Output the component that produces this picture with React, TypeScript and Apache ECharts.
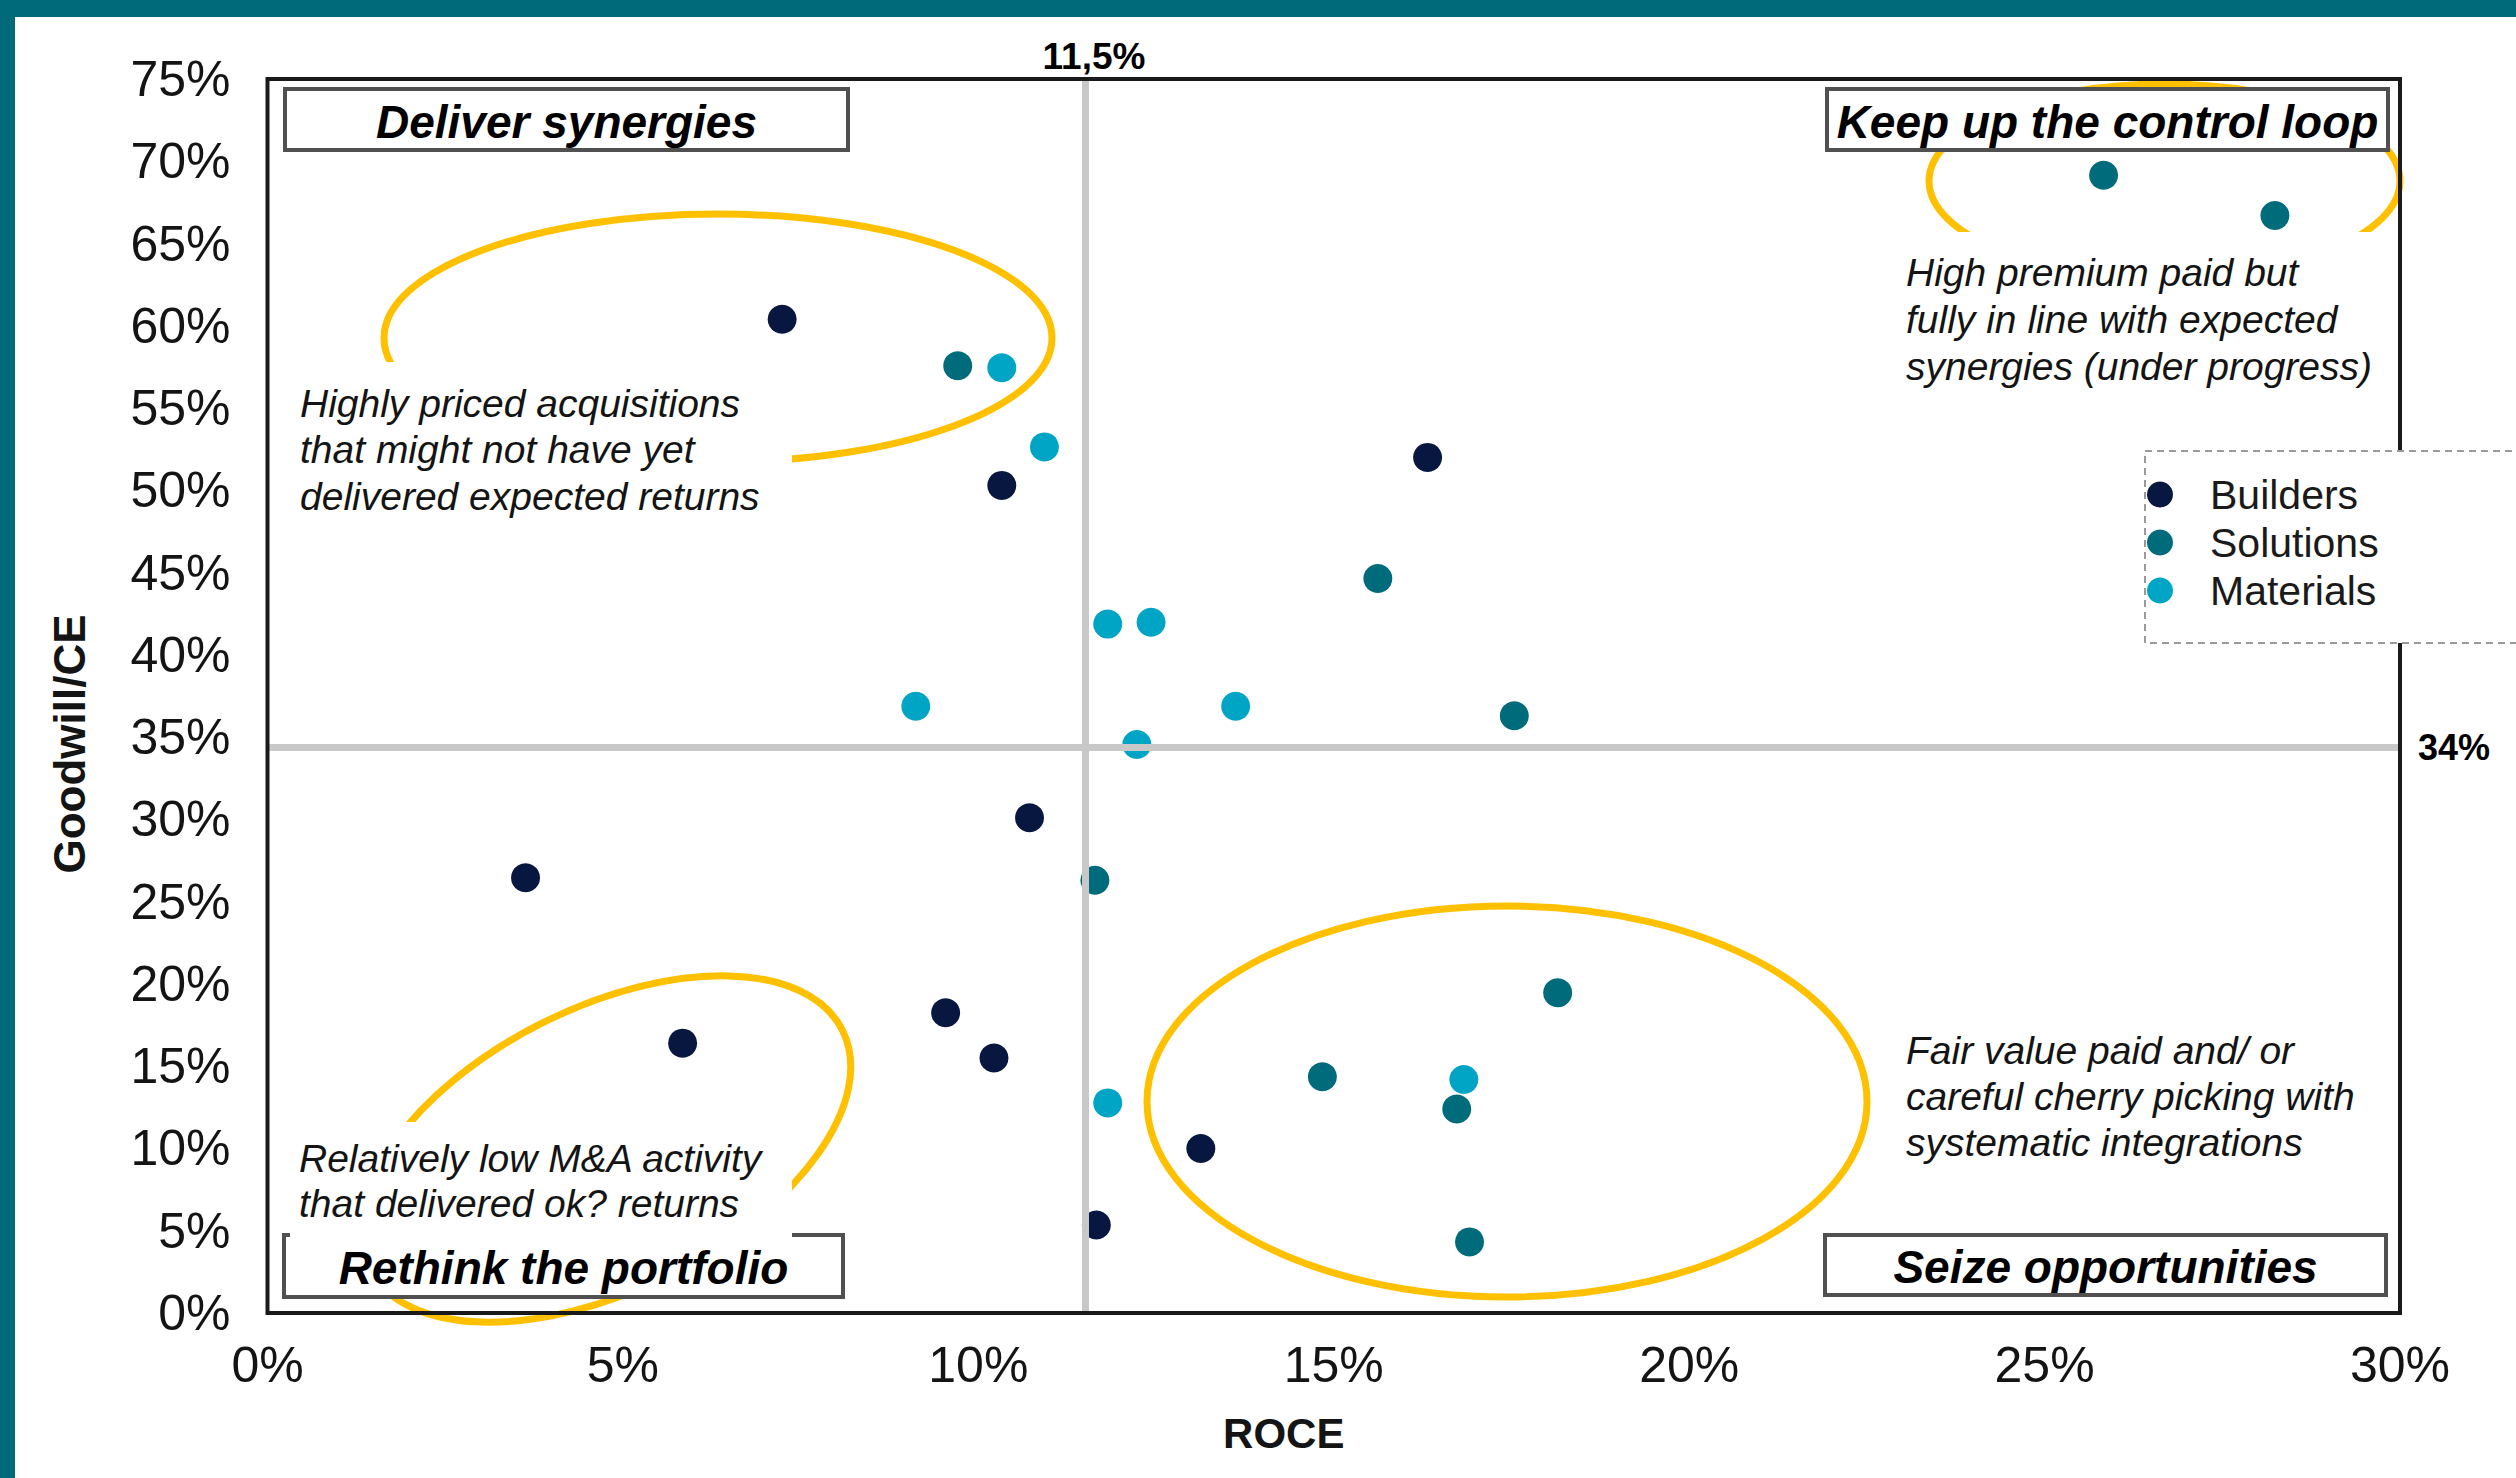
import React, { useEffect, useRef } from "react";
import * as echarts from "echarts";

const W = 2516;
const H = 1478;
const FONT = "'Liberation Sans', Arial, Helvetica, sans-serif";
const TEXT = "#141414";
const TEAL_FRAME = "#006A7A";
const YELLOW = "#FFC000";

// ---- data ----
const seriesNames = ["Builders", "Solutions", "Materials"];
const seriesColors = ["#07173F", "#006B7A", "#00A4C4"];

const buildersX = [7.24, 10.33, 16.32, 10.72, 3.63, 9.54, 5.84, 10.22, 13.13, 11.66];
const buildersY = [60.4, 50.3, 52.0, 30.1, 26.45, 18.25, 16.4, 15.5, 10.0, 5.35];

const solutionsX = [25.83, 28.24, 9.71, 15.62, 17.54, 11.64, 18.15, 14.84, 16.73, 16.91];
const solutionsY = [69.15, 66.7, 57.57, 44.64, 36.3, 26.3, 19.46, 14.36, 12.4, 4.32];

const materialsX = [10.33, 10.93, 11.82, 12.43, 9.12, 13.62, 12.23, 16.83, 11.82];
const materialsY = [57.45, 52.64, 41.87, 41.98, 36.88, 36.88, 34.55, 14.19, 12.77];

const xMin = 0, xMax = 30, xStep = 5;
const yMin = 0, yMax = 75, yStep = 5;
const xAxisName = "ROCE";
const yAxisName = "Goodwill/CE";

const roceThreshold = 11.5;
const roceThresholdLabel = "11,5%";
const goodwillThreshold = 34.4;
const goodwillThresholdLabel = "34%";

const quadrantLabels = [
  "Deliver synergies",
  "Keep up the control loop",
  "Rethink the portfolio",
  "Seize opportunities",
];
const noteTopLeft = ["Highly priced acquisitions", "that might not have yet", "delivered expected returns"];
const noteTopRight = ["High premium paid but", "fully in line with expected", "synergies (under progress)"];
const noteBottomRight = ["Fair value paid and/ or", "careful cherry picking with", "systematic integrations"];
const noteBottomLeft = ["Relatively low M&A activity", "that delivered ok? returns"];

// ---- layout ----
const G = { left: 267.5, top: 79, right: 2400, bottom: 1313 };

function zip(xs: number[], ys: number[]) {
  return xs.map((x, i) => [x, ys[i]]);
}

function quadBox(label: string, x: number, y: number, w: number, h: number) {
  return [
    {
      type: "rect",
      z: 7,
      shape: { x, y, width: w, height: h },
      style: { fill: "#ffffff", stroke: "#505050", lineWidth: 4 },
    },
    {
      type: "text",
      z: 9,
      x: x + w / 2,
      y: y + h / 2 + 2,
      style: {
        text: label,
        fill: "#000000",
        fontSize: 46,
        fontFamily: FONT,
        fontWeight: "bold",
        fontStyle: "italic",
        align: "center",
        verticalAlign: "middle",
      },
    },
  ];
}

function note(lines: string[], x: number, y: number, lh: number) {
  return {
    type: "text",
    z: 9,
    x,
    y,
    style: {
      text: lines.join("\n"),
      fill: TEXT,
      fontSize: 39,
      fontFamily: FONT,
      fontStyle: "italic",
      lineHeight: lh,
      align: "left",
      verticalAlign: "top",
    },
  };
}

function whiteRect(x: number, y: number, w: number, h: number) {
  return { type: "rect", z: 8, shape: { x, y, width: w, height: h }, style: { fill: "#ffffff" } };
}

function ring(cx: number, cy: number, rx: number, ry: number, rotation = 0) {
  return {
    type: "ellipse",
    z: 6,
    x: cx,
    y: cy,
    rotation,
    shape: { cx: 0, cy: 0, rx, ry },
    style: { fill: "none", stroke: YELLOW, lineWidth: 7 },
  };
}

export default function App() {
  const ref = useRef<HTMLDivElement>(null);

  useEffect(() => {
    const chart = echarts.init(ref.current!, null, { renderer: "svg" });

    const dataSets = [zip(buildersX, buildersY), zip(solutionsX, solutionsY), zip(materialsX, materialsY)];

    const series: any[] = seriesNames.map((name, i) => ({
      name,
      type: "scatter",
      symbol: "circle",
      symbolSize: 29,
      z: 2,
      itemStyle: { color: seriesColors[i], opacity: 1 },
      emphasis: { disabled: true },
      data: dataSets[i],
    }));

    series[0].markLine = {
      silent: true,
      symbol: ["none", "none"],
      z: 5,
      lineStyle: { color: "#C8C8C8", width: 7, type: "solid" },
      emphasis: { disabled: true },
      data: [
        {
          xAxis: roceThreshold,
          label: {
            show: true,
            position: "end",
            distance: 4,
            formatter: roceThresholdLabel,
            color: "#000",
            fontSize: 37,
            fontWeight: "bold",
            fontFamily: FONT,
            padding: [0, 0, 0, 18],
          },
        },
        {
          yAxis: goodwillThreshold,
          label: {
            show: true,
            position: "end",
            distance: 18,
            formatter: goodwillThresholdLabel,
            color: "#000",
            fontSize: 36,
            fontWeight: "bold",
            fontFamily: FONT,
            padding: [8, 0, 0, 0],
          },
        },
      ],
    };

    const graphic: any[] = [
      // frame
      { type: "rect", z: 20, shape: { x: 0, y: 0, width: W, height: 17 }, style: { fill: TEAL_FRAME } },
      { type: "rect", z: 20, shape: { x: 0, y: 0, width: 15, height: H }, style: { fill: TEAL_FRAME } },
      // highlight ellipses
      ring(718, 338, 334, 124),
      ring(2164.5, 181, 235.5, 97),
      ring(1507, 1101.5, 360, 195.5),
      ring(605.5, 1149, 265, 141, 0.464),
      // quadrant boxes
      ...quadBox(quadrantLabels[0], 285, 89, 563, 61),
      ...quadBox(quadrantLabels[1], 1827, 89, 561, 61),
      ...quadBox(quadrantLabels[2], 284, 1235, 559, 62),
      ...quadBox(quadrantLabels[3], 1825, 1235, 561, 60),
      // white backgrounds behind notes
      whiteRect(292, 362, 500, 160),
      whiteRect(1895, 232, 490, 160),
      whiteRect(290, 1122, 502, 116),
      // notes
      note(noteTopLeft, 300, 380, 46.4),
      note(noteTopRight, 1906, 248.5, 47),
      note(noteBottomRight, 1906, 1027, 46),
      note(noteBottomLeft, 299, 1135.5, 45),
      // plot border
      {
        type: "rect",
        z: 10,
        shape: { x: G.left, y: G.top, width: G.right - G.left, height: G.bottom - G.top },
        style: { fill: "none", stroke: "#1a1a1a", lineWidth: 4 },
      },
      // legend box
      {
        type: "rect",
        z: 11,
        shape: { x: 2145, y: 451, width: 420, height: 192 },
        style: { fill: "#ffffff", stroke: "#9a9a9a", lineWidth: 2, lineDash: [7, 5] },
      },
    ];

    const option: any = {
      animation: false,
      backgroundColor: "#ffffff",
      textStyle: { fontFamily: FONT },
      grid: {
        left: G.left,
        top: G.top,
        right: W - G.right,
        bottom: H - G.bottom,
        containLabel: false,
        show: false,
      },
      legend: {
        show: true,
        orient: "vertical",
        left: 2147,
        top: 474,
        padding: 0,
        itemWidth: 26,
        itemHeight: 26,
        itemGap: 7,
        icon: "circle",
        z: 12,
        selectedMode: false,
        textStyle: {
          fontSize: 41,
          color: "#1a1a1a",
          fontFamily: FONT,
          lineHeight: 26,
          padding: [0, 0, 0, 32],
        },
        data: seriesNames,
      },
      xAxis: {
        type: "value",
        min: xMin,
        max: xMax,
        interval: xStep,
        name: xAxisName,
        nameLocation: "middle",
        nameGap: 99,
        nameTextStyle: {
          fontSize: 42,
          fontWeight: "bold",
          color: TEXT,
          fontFamily: FONT,
          padding: [0, 100, 0, 0],
        },
        axisLine: { show: false },
        axisTick: { show: false },
        splitLine: { show: false },
        axisLabel: {
          interval: 0,
          formatter: "{value}%",
          fontSize: 50,
          color: TEXT,
          fontFamily: FONT,
          margin: 27,
        },
      },
      yAxis: {
        type: "value",
        min: yMin,
        max: yMax,
        interval: yStep,
        name: yAxisName,
        nameLocation: "middle",
        nameRotate: 90,
        nameGap: 176,
        nameTextStyle: {
          fontSize: 44,
          fontWeight: "bold",
          color: TEXT,
          fontFamily: FONT,
          padding: [0, 96, 0, 0],
        },
        axisLine: { show: false },
        axisTick: { show: false },
        splitLine: { show: false },
        axisLabel: {
          interval: 0,
          formatter: "{value}%",
          fontSize: 50,
          color: TEXT,
          fontFamily: FONT,
          margin: 37,
        },
      },
      series,
      graphic,
    };

    chart.setOption(option);
    return () => chart.dispose();
  }, []);

  return (
    <div
      ref={ref}
      style={{ position: "fixed", left: 0, top: 0, width: W, height: H, background: "#ffffff" }}
    />
  );
}
